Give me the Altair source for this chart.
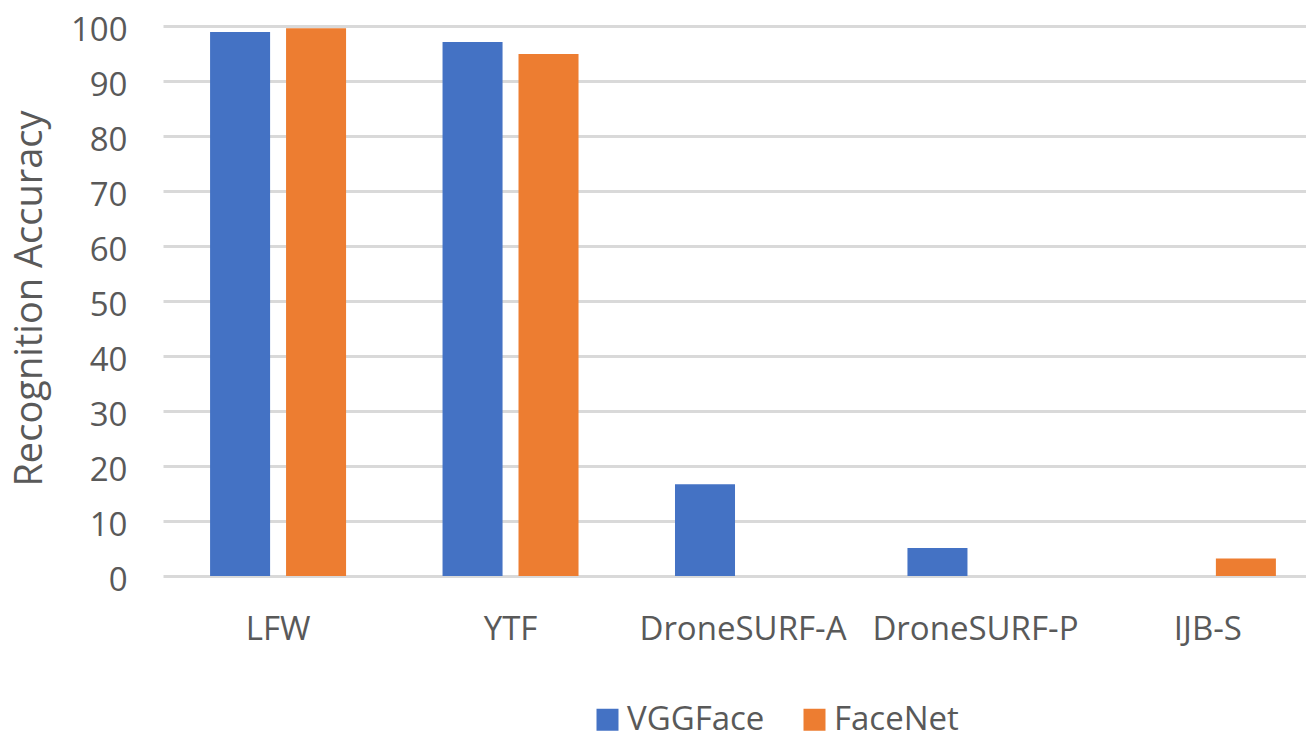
import altair as alt
import pandas as pd

categories = ["LFW", "YTF", "DroneSURF-A", "DroneSURF-P", "IJB-S"]
series = ["VGGFace", "FaceNet"]
vggface = [98.9, 97.1, 16.7, 5.1, None]
facenet = [99.6, 94.9, None, None, 3.2]
y_ticks = [0, 10, 20, 30, 40, 50, 60, 70, 80, 90, 100]

rows = []
for c, v, f in zip(categories, vggface, facenet):
    if v is not None:
        rows.append({"dataset": c, "model": "VGGFace", "acc": v})
    if f is not None:
        rows.append({"dataset": c, "model": "FaceNet", "acc": f})
df = pd.DataFrame(rows)

FONT = "Open Sans"
TXT = "#595959"

chart = alt.Chart(df).mark_bar().encode(
    x=alt.X("dataset:N", sort=categories,
            scale=alt.Scale(domain=categories, paddingInner=0.415, paddingOuter=0.166, align=0.61),
            axis=alt.Axis(title=None, labelAngle=0, ticks=False, domain=False,
                          labelPadding=63, labelBaseline="alphabetic", labelLimit=400,
                          labelFontSize=33, labelFont=FONT, labelColor=TXT)),
    xOffset=alt.XOffset("model:N", sort=series,
                        scale=alt.Scale(domain=series, paddingInner=0.21, paddingOuter=0)),
    y=alt.Y("acc:Q", scale=alt.Scale(domain=[0, 100], nice=False),
            axis=alt.Axis(title="Recognition Accuracy", values=y_ticks, ticks=False, domain=False,
                          labelPadding=36, labelFontSize=33, labelFont=FONT, labelColor=TXT,
                          labelBaseline="alphabetic", labelOffset=14,
                          gridColor="#D9D9D9", gridWidth=3,
                          titleFontSize=38, titleFont=FONT, titleColor=TXT, titleFontWeight="normal",
                          titleX=-133, titleY=272, titleAngle=270, titleBaseline="middle", titleAlign="center")),
    color=alt.Color("model:N", sort=series,
                    scale=alt.Scale(domain=series, range=["#4472C4", "#ED7D31"]),
                    legend=alt.Legend(title=None, orient="none", direction="horizontal",
                                      legendX=428, legendY=677, symbolType="square", symbolSize=484,
                                      symbolStrokeWidth=0, labelFontSize=33, labelFont=FONT,
                                      labelColor=TXT, labelOffset=3, columnPadding=33, padding=0,
                                      labelLimit=300)),
).properties(
    width=1143, height=550,
    autosize=alt.AutoSizeParams(type="none"),
    padding={"left": 155, "top": 18, "right": 0, "bottom": 170},
).configure_view(stroke=None)

chart.save("out.html", embed_options={"renderer": "svg", "actions": False})
